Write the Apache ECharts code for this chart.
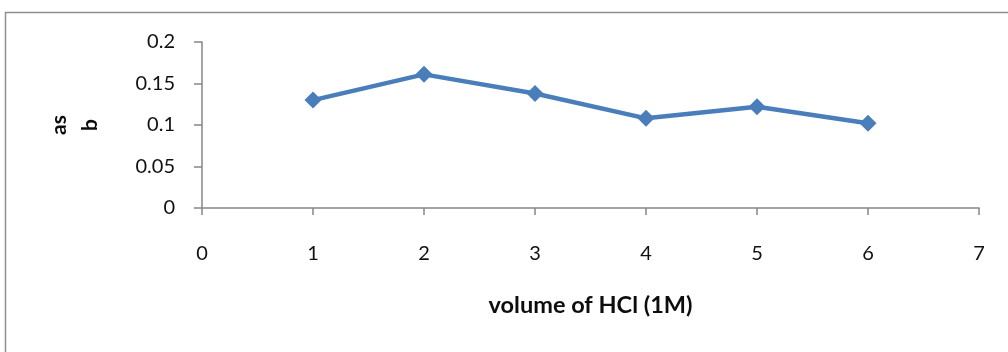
<!DOCTYPE html>
<html>
<head>
<meta charset="utf-8">
<style>
  html, body { margin: 0; padding: 0; background: #fff; }
  #chart { width: 1008px; height: 352px; }
</style>
<script src="https://cdn.jsdelivr.net/npm/echarts@6/dist/echarts.min.js"></script>
</head>
<body>
<div id="chart"></div>
<script>
// Measured absorbance for each added volume of HCl (1M)
const volumes = [1, 2, 3, 4, 5, 6];
const absorbance = [0.130, 0.161, 0.138, 0.108, 0.122, 0.102];

const xTitle = 'volume of HCl (1M)';
const yTitle = 'as\nb';

const axisGray = '#868686';
const lineBlue = '#4a7ebb';
const font = 'Lato, "Open Sans", sans-serif';

const chart = echarts.init(document.getElementById('chart'), null, { renderer: 'canvas' });

chart.setOption({
  animation: false,
  backgroundColor: '#fff',
  graphic: [{
    type: 'rect',
    shape: { x: 5.5, y: 12.5, width: 1020, height: 360 },
    style: { fill: 'none', stroke: '#8f8f8f', lineWidth: 1.5 },
    silent: true
  }],
  grid: { left: 202, right: 29, top: 42, bottom: 144, containLabel: false },
  xAxis: {
    type: 'value',
    min: 0, max: 7, interval: 1,
    name: xTitle,
    nameLocation: 'middle',
    nameGap: 85,
    nameTextStyle: { fontFamily: font, fontSize: 23.5, fontWeight: 'bold', color: '#0d0d0d' },
    axisLine: { show: true, onZero: false, lineStyle: { color: axisGray, width: 1.5 } },
    axisTick: { show: true, length: 7, lineStyle: { color: axisGray, width: 1.5 } },
    axisLabel: { margin: 36, fontFamily: font, fontSize: 20, color: '#111' },
    splitLine: { show: false }
  },
  yAxis: {
    type: 'value',
    min: 0, max: 0.2, interval: 0.05,
    name: yTitle,
    nameLocation: 'middle',
    nameRotate: 90,
    nameGap: 96,
    nameTextStyle: { fontFamily: font, fontSize: 21, fontWeight: 'bold', color: '#0d0d0d', lineHeight: 31 },
    axisLine: { show: true, lineStyle: { color: axisGray, width: 1.5 } },
    axisTick: { show: true, length: 8, lineStyle: { color: axisGray, width: 1.5 } },
    axisLabel: { margin: 27, fontFamily: font, fontSize: 20, color: '#111' },
    splitLine: { show: false }
  },
  series: [{
    type: 'line',
    data: volumes.map((v, i) => [v, absorbance[i]]),
    symbol: 'diamond',
    symbolSize: 17,
    itemStyle: { color: lineBlue },
    lineStyle: { color: lineBlue, width: 4.5 }
  }]
});
</script>
</body>
</html>
